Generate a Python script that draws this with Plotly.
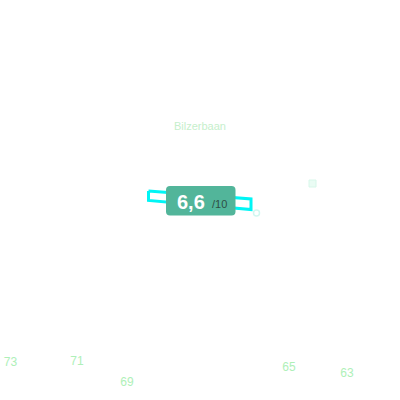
import plotly.graph_objects as go

# ---- data ----
title_text = "Bilzerbaan"
score = 6.6
score_max = 10
tick_labels = ["73", "71", "69", "65", "63"]
tick_x = [10.5, 77, 127, 289, 347]
tick_y = [362.5, 362, 382.5, 368, 374]

FONT = "Liberation Sans, Arial, sans-serif"

fig = go.Figure()

# tilted cyan outlined bar behind the badge
bar_x = [148.5, 251, 251, 148.5, 148.5]
bar_y = [191, 199, 209.5, 200.5, 191]
fig.add_trace(go.Scatter(x=bar_x, y=bar_y, mode="lines",
                         line=dict(color="#00f5f5", width=3),
                         hoverinfo="skip", showlegend=False))

# small markers
fig.add_trace(go.Scatter(x=[256.5], y=[213], mode="markers",
                         marker=dict(symbol="circle-open", size=6,
                                     color="#d2f7f0", line=dict(width=1.5)),
                         hoverinfo="skip", showlegend=False))
fig.add_trace(go.Scatter(x=[312.5], y=[183.5], mode="markers",
                         marker=dict(symbol="square", size=7, color="#eafcf4",
                                     line=dict(color="#d8f7ea", width=1)),
                         hoverinfo="skip", showlegend=False))

# tick labels
fig.add_trace(go.Scatter(x=tick_x, y=tick_y, mode="text", text=tick_labels,
                         textfont=dict(family=FONT, size=12, color="#aef0b8"),
                         cliponaxis=False,
                         hoverinfo="skip", showlegend=False))

# badge (rounded rectangle)
x0, x1, y0, y1, r = 166, 235.5, 186, 215.5, 4
path = (f"M {x0+r},{y0} L {x1-r},{y0} Q {x1},{y0} {x1},{y0+r} "
        f"L {x1},{y1-r} Q {x1},{y1} {x1-r},{y1} L {x0+r},{y1} "
        f"Q {x0},{y1} {x0},{y1-r} L {x0},{y0+r} Q {x0},{y0} {x0+r},{y0} Z")
fig.add_shape(type="path", path=path, fillcolor="#52b59a",
              line=dict(width=0), xref="x", yref="y")

score_txt = f"{score:.1f}".replace(".", ",")
fig.add_annotation(x=206.5, y=201.5, xref="x", yref="y", showarrow=False,
                   text=f"<b>{score_txt}</b>", xanchor="right",
                   font=dict(family=FONT, size=20, color="white"))
fig.add_annotation(x=209.5, y=203.5, xref="x", yref="y", showarrow=False,
                   text=f"/{score_max}", xanchor="left",
                   font=dict(family=FONT, size=11, color="#2f4f45"))

fig.add_annotation(x=199.5, y=126, xref="x", yref="y", showarrow=False,
                   text=title_text,
                   font=dict(family=FONT, size=11, color="#c6efcc"))

fig.update_layout(
    width=400, height=400,
    margin=dict(l=0, r=0, t=0, b=0),
    paper_bgcolor="white", plot_bgcolor="white",
    xaxis=dict(range=[0, 400], visible=False, fixedrange=True),
    yaxis=dict(range=[400, 0], visible=False, fixedrange=True),
    showlegend=False,
)

fig.write_html("out.html", config={"displayModeBar": False},
               post_script="document.body.style.margin='0px';")
